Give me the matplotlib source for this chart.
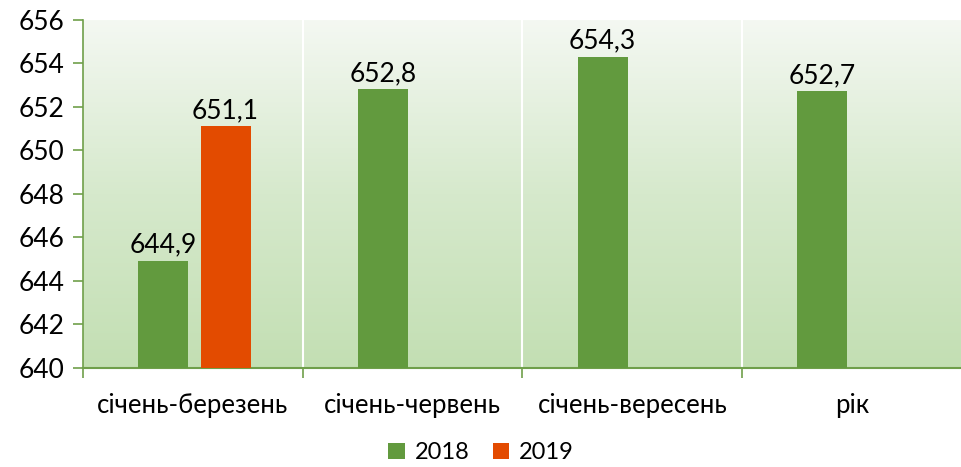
import numpy as np
import matplotlib.pyplot as plt
from matplotlib.colors import LinearSegmentedColormap

categories = ['січень-березень', 'січень-червень', 'січень-вересень', 'рік']
series_2018 = [644.9, 652.8, 654.3, 652.7]
series_2019 = [651.1, np.nan, np.nan, np.nan]
yticks = [640, 642, 644, 646, 648, 650, 652, 654, 656]

green = '#629a3e'
orange = '#e34b00'
axis_col = '#6f9f4a'

plt.rcParams['font.family'] = ['Lato', 'DejaVu Sans']

fig = plt.figure(figsize=(9.62, 4.67), dpi=100)
ax = fig.add_axes([0.086, 0.213, 0.914, 0.745])

# фон з градієнтом
grad = LinearSegmentedColormap.from_list('g', ['#c3dfb3', '#d6e9cc', '#f4f8f2'])
ax.imshow(np.linspace(0, 1, 256).reshape(-1, 1), aspect='auto', cmap=grad,
          extent=[-0.5, 3.5, 640, 656], origin='lower', zorder=0)

x = np.arange(len(categories))
w = 0.227
ax.bar(x - 0.135, series_2018, w, color=green, label='2018', zorder=3)
ax.bar(x + 0.15, series_2019, w, color=orange, label='2019', zorder=3)

for xi, v in zip(x, series_2018):
    ax.text(xi - 0.135, v + 0.15, f'{v:.1f}'.replace('.', ','), ha='center', va='bottom',
            fontsize=19, zorder=4)
for xi, v in zip(x, series_2019):
    if not np.isnan(v):
        ax.text(xi + 0.15, v + 0.15, f'{v:.1f}'.replace('.', ','), ha='center', va='bottom',
                fontsize=19, zorder=4)

for b in [0.5, 1.5, 2.5]:
    ax.axvline(b, color='white', lw=1.5, zorder=1)

ax.set_xlim(-0.5, 3.5)
ax.set_ylim(640, 656)
ax.set_yticks(yticks)
ax.set_yticklabels([str(t) for t in yticks], fontsize=19)
ax.set_xticks(x)
ax.set_xticklabels(categories, fontsize=18.5)
ax.tick_params(axis='x', length=0, pad=18)
ax.tick_params(axis='y', length=7, color=axis_col, width=1.2, pad=6)
ax.set_xticks([-0.5, 0.5, 1.5, 2.5, 3.5], minor=True)
ax.tick_params(axis='x', which='minor', length=7, color=axis_col, width=1.2)

for s in ['top', 'right']:
    ax.spines[s].set_visible(False)
ax.spines['left'].set_color(axis_col)
ax.spines['bottom'].set_color(axis_col)
ax.spines['left'].set_linewidth(1.2)
ax.spines['bottom'].set_linewidth(1.5)

fig.legend(loc='lower center', bbox_to_anchor=(0.5, -0.038), ncol=2, frameon=False,
           fontsize=17, handlelength=0.7, handleheight=0.7, handletextpad=0.4,
           columnspacing=1.0)

fig.savefig('out.png', dpi=100)
